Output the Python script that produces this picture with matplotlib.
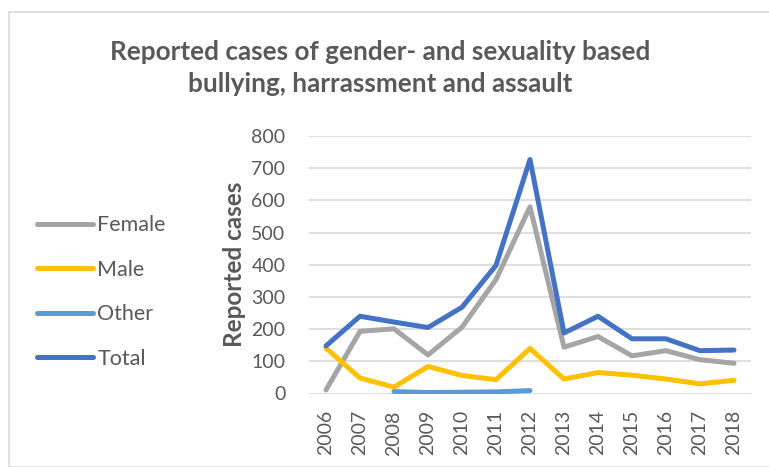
import matplotlib
matplotlib.use("Agg")
import matplotlib.pyplot as plt
from matplotlib.patches import Rectangle

years = [str(y) for y in range(2006, 2019)]
female = [11, 193, 201, 120, 206, 354, 580, 144, 177, 117, 133, 105, 94]
male = [141, 48, 20, 84, 56, 43, 140, 45, 65, 57, 45, 30, 41]
other = [None, None, 6, 3, 4, 5, 9, None, None, None, None, None, None]
total = [148, 240, 222, 205, 268, 398, 727, 188, 240, 170, 170, 133, 135]

plt.rcParams['font.family'] = ['Lato', 'DejaVu Sans']
txt = '#595959'

W, H = 769, 467
fig = plt.figure(figsize=(W/100, H/100), dpi=100)
# chart border
fig.patches.append(Rectangle((9/W, 0), 1.2, (H-12)/H, transform=fig.transFigure,
                             fill=False, edgecolor='#D9D9D9', linewidth=1.2))

ax = fig.add_axes([309/W, 1-393.5/H, (751-309)/W, (393.5-136)/H])
x = list(range(len(years)))
ov = [float('nan') if v is None else v for v in other]
lw = 3.6
ax.plot(x, female, color='#A5A5A5', lw=lw, label='Female', solid_capstyle='round')
ax.plot(x, male, color='#FFC000', lw=lw, label='Male', solid_capstyle='round')
ax.plot(x, ov, color='#5B9BD5', lw=lw, label='Other', solid_capstyle='round')
ax.plot(x, total, color='#4472C4', lw=lw, label='Total', solid_capstyle='round')

ax.set_xlim(-0.5, len(years)-0.5)
ax.set_ylim(0, 800)
ax.set_yticks(range(0, 801, 100))
ax.set_xticks(x)
ax.set_xticklabels(years, rotation=90)
ax.tick_params(axis='both', length=0, labelsize=14, colors=txt)
ax.tick_params(axis='y', pad=17)
ax.tick_params(axis='x', pad=12)
ax.grid(axis='y', color='#D9D9D9', lw=1.2)
ax.set_axisbelow(True)
for s in ax.spines.values():
    s.set_visible(False)
ax.set_ylabel('Reported cases', fontsize=17.5, fontweight='bold', color=txt, labelpad=4)

fig.text(380/W, 1-68/H, 'Reported cases of gender- and sexuality based\nbullying, harrassment and assault',
         ha='center', va='center', fontsize=18.8, fontweight='bold', color=txt, linespacing=1.35)

leg = fig.legend(loc='upper left', bbox_to_anchor=(18/W, 1-196/H), frameon=False,
                 fontsize=15.5, labelcolor=txt, handlelength=2.6, handletextpad=0.18,
                 labelspacing=1.14)

fig.savefig('out.png', dpi=100)
